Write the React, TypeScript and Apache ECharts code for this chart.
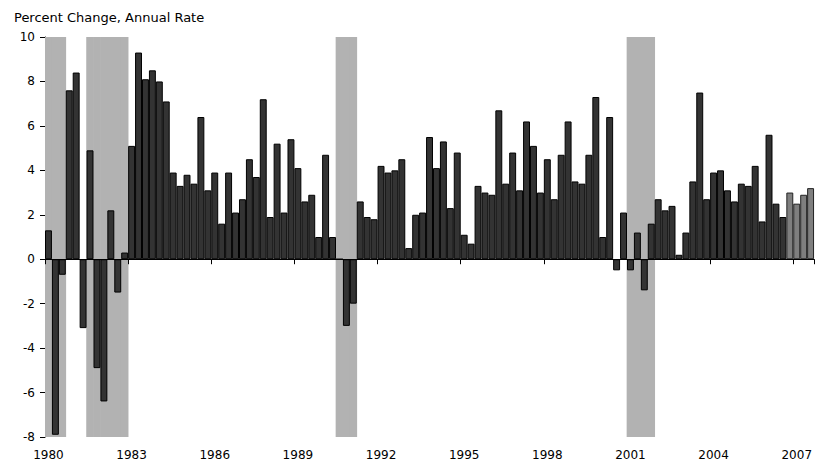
import React, { useEffect, useRef } from "react";
import * as echarts from "echarts";

const startYear = 1980;
const values: number[] = [
  1.3, -7.9, -0.7, 7.6,
  8.4, -3.1, 4.9, -4.9,
  -6.4, 2.2, -1.5, 0.3,
  5.1, 9.3, 8.1, 8.5,
  8.0, 7.1, 3.9, 3.3,
  3.8, 3.4, 6.4, 3.1,
  3.9, 1.6, 3.9, 2.1,
  2.7, 4.5, 3.7, 7.2,
  1.9, 5.2, 2.1, 5.4,
  4.1, 2.6, 2.9, 1.0,
  4.7, 1.0, 0.0, -3.0,
  -2.0, 2.6, 1.9, 1.8,
  4.2, 3.9, 4.0, 4.5,
  0.5, 2.0, 2.1, 5.5,
  4.1, 5.3, 2.3, 4.8,
  1.1, 0.7, 3.3, 3.0,
  2.9, 6.7, 3.4, 4.8,
  3.1, 6.2, 5.1, 3.0,
  4.5, 2.7, 4.7, 6.2,
  3.5, 3.4, 4.7, 7.3,
  1.0, 6.4, -0.5, 2.1,
  -0.5, 1.2, -1.4, 1.6,
  2.7, 2.2, 2.4, 0.2,
  1.2, 3.5, 7.5, 2.7,
  3.9, 4.0, 3.1, 2.6,
  3.4, 3.3, 4.2, 1.7,
  5.6, 2.5, 1.9, 3.0,
  2.5, 2.9, 3.2,
];
const categories: string[] = values.map(
  (_, i) => `${startYear + Math.floor(i / 4)}Q${(i % 4) + 1}`
);
const xTickLabels = ["1980", "1983", "1986", "1989", "1992", "1995", "1998", "2001", "2004", "2007"];
const recessionQuarters = [
  "1980Q1", "1980Q2", "1980Q3",
  "1981Q3", "1981Q4", "1982Q1", "1982Q2", "1982Q3", "1982Q4",
  "1990Q3", "1990Q4", "1991Q1",
  "2001Q1", "2001Q2", "2001Q3", "2001Q4",
];
const forecastQuarters = ["2006Q4", "2007Q1", "2007Q2", "2007Q3"];
const yMin = -8;
const yMax = 10;
const yStep = 2;
const titleText = "Percent Change, Annual Rate";

const FONT = "DejaVu Sans";
const SHADE = "#b2b2b2";

export default function App() {
  const ref = useRef<HTMLDivElement>(null);
  useEffect(() => {
    if (!ref.current) return;
    const chart = echarts.init(ref.current, undefined, { renderer: "svg" });
    const inRec = (c: string) => recessionQuarters.includes(c);
    // only the interior quarters get an overlapping (wider) shade so there are no hairline gaps
    const shadeTop = categories.map((c) => (inRec(c) ? yMax : "-"));
    const shadeBottom = categories.map((c) => (inRec(c) ? yMin : "-"));
    const barData = values.map((v, i) =>
      forecastQuarters.includes(categories[i])
        ? { value: v, itemStyle: { color: "#7f7f7f", borderColor: "#222" } }
        : v
    );
    const shadeStyle = { color: SHADE };
    chart.setOption({
      animation: false,
      backgroundColor: "#fff",
      title: {
        text: titleText,
        left: 9,
        top: 6,
        textStyle: { fontFamily: FONT, fontSize: 13, fontWeight: "normal", color: "#000" },
      },
      grid: { left: 45, top: 37, width: 771, height: 400 },
      xAxis: [
        {
          type: "category",
          data: categories,
          z: 10,
          axisLine: { onZero: true, lineStyle: { color: "#000", width: 1 } },
          axisTick: { show: true, interval: 11, length: 5, lineStyle: { color: "#000" } },
          axisLabel: { show: false },
          splitLine: { show: false },
        },
        {
          type: "category",
          data: categories,
          position: "bottom",
          axisLine: { show: false, onZero: false },
          axisTick: { show: false },
          axisLabel: {
            interval: 11,
            margin: 12,
            fontFamily: FONT,
            fontSize: 12,
            color: "#000",
            formatter: (_v: string, idx: number) => xTickLabels[Math.floor(idx / 12)] ?? "",
          },
          splitLine: { show: false },
        },
      ],
      yAxis: {
        type: "value",
        min: yMin,
        max: yMax,
        interval: yStep,
        axisLine: { show: true, lineStyle: { color: "#000" } },
        axisTick: { show: true, length: 5, lineStyle: { color: "#000" } },
        axisLabel: { fontFamily: FONT, fontSize: 12, color: "#000", margin: 10 },
        splitLine: { show: false },
      },
      series: [
        {
          type: "bar",
          xAxisIndex: 1,
          data: shadeTop,
          silent: true,
          barWidth: 7.6,
          barGap: "-100%",
          itemStyle: shadeStyle,
          z: 1,
        },
        {
          type: "bar",
          xAxisIndex: 1,
          data: shadeBottom,
          silent: true,
          barWidth: 7.6,
          barGap: "-100%",
          itemStyle: shadeStyle,
          z: 1,
        },
        {
          type: "bar",
          xAxisIndex: 0,
          data: barData,
          barWidth: "100%",
          barGap: "-100%",
          itemStyle: { color: "#333333", borderColor: "#000", borderWidth: 1 },
          z: 3,
        },
      ],
    });
    return () => chart.dispose();
  }, []);
  return (
    <div
      ref={ref}
      style={{ position: "absolute", left: 0, top: 0, width: 815, height: 472 }}
    />
  );
}
